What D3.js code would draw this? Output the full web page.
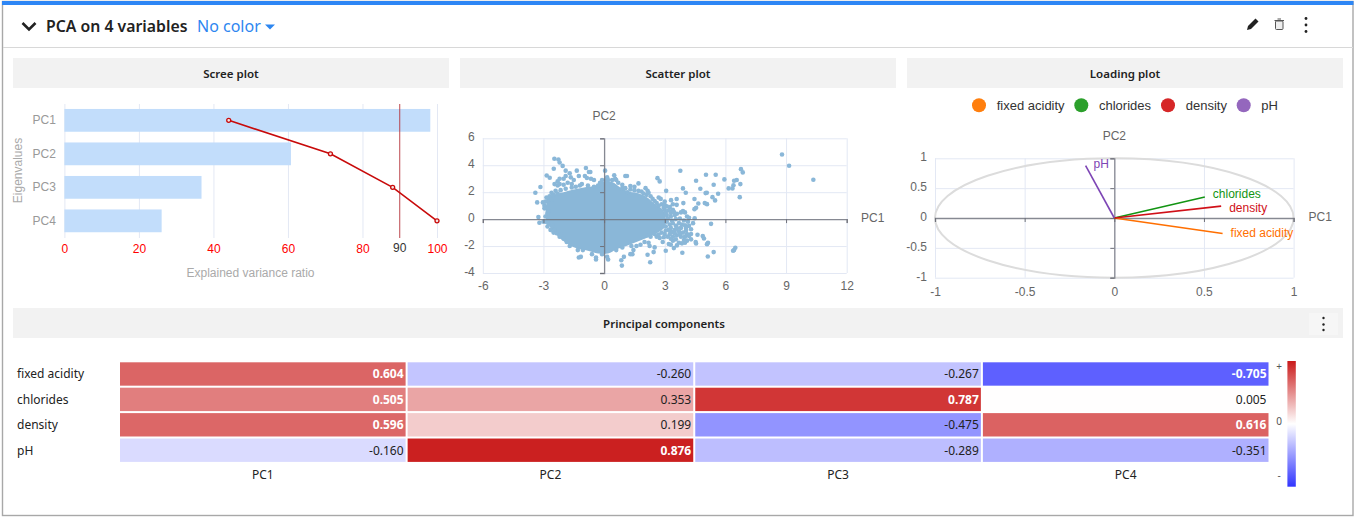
<!DOCTYPE html>
<html><head><meta charset="utf-8">
<script src="https://cdn.jsdelivr.net/npm/d3@7"></script>
<style>
html,body{margin:0;padding:0;background:#fff;overflow:hidden}
svg{display:block}
text{font-family:"Liberation Sans",Arial,sans-serif}
.ui{font-family:"Noto Sans",sans-serif}
.domain{display:none}
</style></head><body><svg id="c" width="1356" height="519"></svg>
<script>
// ---------- data ----------
const components = ["PC1","PC2","PC3","PC4"];
const variables = ["fixed acidity","chlorides","density","pH"];
const explainedBars = [98.2,60.8,36.8,26.1];
const cumulativeLine = [44.1,71.4,88.1,100];
const thresholdValue = 90;
const screeTicks = [0,20,40,60,80,100];
const loadings = [
  [0.604,-0.260,-0.267,-0.705],
  [0.505,0.353,0.787,0.005],
  [0.596,0.199,-0.475,0.616],
  [-0.160,0.876,-0.289,-0.351]
];
const variableColors = ["#ff7f0e","#2ca02c","#d62728","#9467bd"];
const vectorColors = ["#ff6f00","#129412","#d01018","#7d45b5"];
// Outline of the fully overplotted centre of the scatter, where single points cannot be read.
const scatterCoreOutline = [[-2.75,1.7],[-2.4,1.85],[-2,2.0],[-1.5,2.2],[-1,2.35],[-.5,2.45],[0,2.8],[.4,2.75],[.8,2.35],[1.2,2.05],[1.6,1.95],[2.1,1.65],[2.5,1.15],[2.9,.7],[3.05,.1],[3,-.6],[2.6,-1.05],[2.1,-1.4],[1.6,-1.7],[1.1,-2.0],[.6,-2.25],[.2,-2.55],[-.3,-2.55],[-.8,-2.35],[-1.4,-2.15],[-1.9,-1.75],[-2.3,-1.25],[-2.6,-.75],[-2.85,-.1],[-2.9,.5],[-2.85,1.2]];
// Individually readable points around it.
const scatterPoints = [
[8.8,4.8],[9.15,3.96],[10.35,2.92],[6.77,3.71],[6.86,3.47],[6.74,2.6],[6.71,1.63],[6.56,2.9],[6.43,2.85],[6.4,2.52],[6.35,2.28],[6.16,2.28],[5.95,2.95],[5.52,3.29],[5.04,3.29],[4.55,2.85],[3.77,3.59],[2.64,3.04],[2.75,2.8],[3.07,2.1],[3.9,2.28],[4.04,1.96],[4.76,2.25],[5.42,2.55],[5.64,1.88],[5.36,1.63],[5.49,1.39],[5.08,1.96],[5.02,1.93],[4.47,1.49],[4.66,1.16],[4.55,.84],[4.47,.74],[4.98,1.19],[5.09,1.11],[3.59,1.49],[3.59,1.06],[3.92,1.19],[3.31,1.41],[5.29,-.35],[4.48,.07],
[6.49,-2.13],[6.43,-2.3],[6.38,-2.35],[5.13,-2.77],[5.42,-2.45],[5.14,-1.76],[5.09,-1.86],[4.88,-1.26],[4.94,-1.44],[4.55,-1.81],[4.53,-1.7],[4.62,-1.16],[3.87,-2.5],
[-2.46,4.48],[-2.26,4.43],[-2.2,4.2],[-2.05,3.95],[-1.9,3.6],[-1.9,3.2],[-1.7,3.4],[-1.65,3.1],[-1.5,2.9],[-1.35,3.6],[-1.25,3.2],[-.9,3.8],[-.75,3.5],[-.68,3.5],[-.95,3.2],[-.85,3.05],[-.65,3.0],[-.5,2.9],[-2.0,3.0],[-2.2,3.0],[-2.3,2.8],[-2.45,2.6],[-2.3,2.5],[-2.2,2.6],[-2.0,2.55],[-1.8,2.7],[-1.6,2.6],[-1.4,2.4],[-1.2,2.5],[-1.1,2.6],[-.8,2.5],[-.5,2.4],[-.3,2.5],[-.2,2.7],[-.1,2.9],[.05,3.6],[.1,2.9],[.15,3.1],[.5,3.25],[.55,3.0],[.6,2.9],[.7,2.7],[1.05,3.2],[1.13,3.2],[.9,2.3],[1.15,2.0],[1.3,2.45],[1.5,2.4],[1.7,2.65],[1.7,2.1],[1.85,2.05],[2.05,2.3],[2.15,2.1],[2.1,1.8],[2.3,1.7],[2.4,1.5],[2.5,1.35],[2.7,1.6],[2.8,1.5],[2.6,1.2],[2.85,1.1],[3.0,1.3],[3.1,.95],
[3.0,.7],[3.2,.65],[3.25,.9],[3.4,.7],[3.5,.3],[3.6,.4],[3.8,.5],[3.9,.6],[4.0,.5],[4.1,.2],[4.2,.1],[3.1,.3],[3.3,.2],[3.1,-.2],[3.25,-.4],[3.4,-.3],[3.55,-.5],[3.7,-.3],[3.85,-.4],[4.0,-.45],[4.15,-.2],[4.2,-.5],[3.2,-.8],[3.35,-.95],[3.5,-.8],[3.7,-.9],[3.9,-1.0],[4.05,-.85],[4.3,-1.1],[3.0,-1.1],[3.15,-1.3],[3.4,-1.3],[3.6,-1.2],[3.8,-1.3],[4.0,-1.3],[4.2,-1.25],[4.3,-1.5],[4.1,-1.6],[3.85,-1.8],[3.7,-1.75],[3.4,-1.6],[3.2,-1.85],[3.3,-1.9],[2.9,-1.7],[2.75,-1.4],[2.6,-1.3],[2.5,-1.1],[2.3,-1.3],[2.15,-1.2],[2.2,-1.75],[2.25,-2.0],[2.5,-2.1],[2.28,-3.2],[2.15,-2.65],[2.45,-2.45],[3.05,-2.35],[3.45,-2.15],
[3.05,.5],[3.3,.45],[3.45,.55],[3.15,.05],[3.55,0],[3.75,.05],[3.95,-.1],[3.35,-.1],[3.05,-.55],[3.3,-.65],[3.6,-.65],[3.8,-.65],[4.05,-.65],[3.05,-.85],[2.85,-1.0],[3.25,-1.1],[3.5,-1.05],[3.75,-1.1],[4.1,-1.1],[2.7,-1.15],[2.95,-1.35],[3.3,-1.45],[3.55,-1.5],[3.95,-1.55],[3.6,-1.95],[4.0,-1.75],[4.4,-.3],[4.3,-.75],[3.4,1.1],[3.0,1.05],[2.7,1.0],[2.95,.85],[2.2,1.95],[1.95,1.9],[1.5,2.15],[1.3,2.2],[1.05,2.3],[.9,2.55],[.4,2.9],[.2,2.9],[-.2,2.6],[-1.6,2.35],[-1.9,2.25],[-2.15,2.15],[-2.4,2.1],[-2.6,1.95],[-2.75,1.5],[-2.95,1.0],[-2.95,.8],[-2.9,.2],[-3.0,-.2],[-2.8,-.55],[-2.65,-.8],[-2.5,-1.0],
[.88,-3.45],[.85,-3.05],[.98,-2.8],[.2,-3.0],[.15,-2.8],[-.4,-3.0],[-.4,-2.85],[-1.25,-2.85],[-1.15,-2.8],[-1.3,-2.3],[-1.05,-2.3],[-.6,-2.6],[1.3,-2.6],[1.4,-2.6],[1.45,-2.3],[1.35,-2.0],[1.6,-2.0],[1.8,-1.9],[2.0,-1.7],[.6,-2.3],[.9,-2.1],[-.1,-2.6],[-1.7,-2.0],[-1.85,-1.7],[-2.0,-1.45],
[-3.4,1.96],[-3.31,1.24],[-3.15,2.38],[-3.03,1.24],[-2.84,3.24],[-2.69,3.07],[-2.49,3.74],[-3.25,.15],[-3.2,-.27],[-2.9,-.2],[-2.75,-.3],[-2.8,.4],[-2.75,.6],[-2.9,1.3],[-2.85,1.6],[-2.7,1.7],[-2.6,1.45],[-2.5,1.8],[-2.3,1.9],[-2.55,-.5],[-2.45,-.85],[-2.35,-1.05],[-2.15,-1.15],[-2.2,-1.3]
];
const scatterXTicks = [-6,-3,0,3,6,9,12];
const scatterYTicks = [-4,-2,0,2,4,6];
const loadingTicks = [-1,-0.5,0,0.5,1];
const panelTitles = ["Scree plot","Scatter plot","Loading plot"];

// ---------- scaffold ----------
const svg = d3.select("#c");
const gridCol="#e3e8f4", axisCol="#6e7079", labelCol="#666";
svg.append("rect").attr("x",2.5).attr("y",1.5).attr("width",1350.5).attr("height",514).attr("fill","#fff").attr("stroke","#a8a8a8").attr("stroke-width",1.4);
svg.append("rect").attr("x",2).attr("y",1).attr("width",1351.5).attr("height",4).attr("fill","#2d86f5");
svg.append("line").attr("x1",3).attr("x2",1353).attr("y1",47.5).attr("y2",47.5).attr("stroke","#d8d8d8");

svg.append("path").attr("d","M22.5 23l6.5 6.5 6.5-6.5").attr("fill","none").attr("stroke","#222").attr("stroke-width",2.6);
svg.append("text").attr("class","ui").attr("x",46).attr("y",32).attr("font-size",15.8).attr("font-weight",600).attr("fill","#222").text("PCA on 4 variables");
svg.append("text").attr("class","ui").attr("x",197).attr("y",32).attr("font-size",16).attr("fill","#2d86f0").text("No color");
svg.append("path").attr("d","M265 24.5h10l-5 5z").attr("fill","#2d86f0");
// toolbar icons
svg.append("path").attr("d","M1247 30l1-4 7.5-7.5 3 3-7.5 7.5z").attr("fill","#222");
svg.append("g").call(g=>{
  g.append("rect").attr("x",1275.5).attr("y",21).attr("width",7.5).attr("height",8.5).attr("rx",1).attr("fill","#eee").attr("stroke","#555");
  g.append("path").attr("d","M1274.5 20.5h9.5M1277.5 19h3.5").attr("stroke","#555").attr("fill","none");
});
[18.5,25,31.5].forEach(y=>svg.append("circle").attr("cx",1306).attr("cy",y).attr("r",1.4).attr("fill","#222"));

const panelX=[13,460,907];
panelTitles.forEach((t,i)=>{
  svg.append("rect").attr("x",panelX[i]).attr("y",58).attr("width",436).attr("height",30).attr("fill","#f2f2f2");
  svg.append("text").attr("class","ui").attr("x",panelX[i]+218).attr("y",77.5).attr("text-anchor","middle").attr("font-size",11.5).attr("font-weight",600).attr("fill","#222").text(t);
});
svg.append("rect").attr("x",13).attr("y",308).attr("width",1330).attr("height",30).attr("fill","#f2f2f2");
svg.append("text").attr("class","ui").attr("x",664).attr("y",327.5).attr("text-anchor","middle").attr("font-size",11.5).attr("font-weight",600).attr("fill","#222").text("Principal components");
svg.append("rect").attr("x",1309).attr("y",313).attr("width",29).attr("height",22).attr("fill","#f6f6f6");
[318,324.5,330].forEach(y=>svg.append("circle").attr("cx",1323.5).attr("cy",y).attr("r",1.2).attr("fill","#222"));

// ---------- scree ----------
const sx=d3.scaleLinear().domain([0,100]).range([64.4,437]);
const sy=d3.scaleBand().domain(components).range([103.6,237.6]).paddingInner(.32).paddingOuter(.16);
const scree=svg.append("g");
scree.append("g").attr("transform","translate(0,238)")
  .call(d3.axisBottom(sx).tickValues(screeTicks).tickSize(-134).tickPadding(6))
  .call(g=>g.selectAll("line").attr("stroke",gridCol))
  .call(g=>g.selectAll("text").attr("fill","#f00").attr("font-size",12).attr("font-family",'"Liberation Sans"'));
scree.selectAll("rect.bar").data(components).join("rect").attr("class","bar")
  .attr("x",sx(0)).attr("y",d=>sy(d)).attr("height",sy.bandwidth())
  .attr("width",(d,i)=>sx(explainedBars[i])-sx(0)).attr("fill","#c2ddfb");
scree.append("g").attr("transform",`translate(${sx(0)-8.5},0)`)
  .call(d3.axisLeft(sy).tickSize(0).tickPadding(0))
  .call(g=>g.selectAll("text").attr("fill","#999").attr("font-size",12).attr("font-family",'"Liberation Sans"'));
scree.append("line").attr("x1",sx(thresholdValue)).attr("x2",sx(thresholdValue)).attr("y1",104).attr("y2",238).attr("stroke","#b5333b").attr("stroke-width",.9);
const ln=d3.line().x(d=>sx(d.v)).y(d=>sy(d.c)+sy.bandwidth()/2);
const lineData=components.map((c,i)=>({c,v:cumulativeLine[i]}));
scree.append("path").attr("d",ln(lineData)).attr("fill","none").attr("stroke","#c80a0a").attr("stroke-width",1.6);
scree.selectAll("circle").data(lineData).join("circle").attr("cx",d=>sx(d.v)).attr("cy",d=>sy(d.c)+sy.bandwidth()/2).attr("r",2).attr("fill","#f5e6e6").attr("stroke","#c80a0a").attr("stroke-width",1.3);
scree.append("text").attr("x",sx(thresholdValue)).attr("y",252).attr("text-anchor","middle").attr("font-size",12).attr("fill","#333").text(thresholdValue);
scree.append("text").attr("x",250.5).attr("y",277).attr("text-anchor","middle").attr("font-size",12).attr("fill","#aaa").text("Explained variance ratio");
scree.append("text").attr("transform","translate(21.5,170.5) rotate(-90)").attr("text-anchor","middle").attr("font-size",12).attr("fill","#aaa").text("Eigenvalues");

// ---------- scatter ----------
const px=d3.scaleLinear().domain([-6,12]).range([482.8,846.7]);
const py=d3.scaleLinear().domain([-4,6]).range([273,138.3]);
const sc=svg.append("g");
function grid(g,x,y,xt,yt,xPad){
  const [x0,x1]=x.range(),[y0,y1]=y.range();
  g.append("g").attr("transform",`translate(0,${y0})`)
   .call(d3.axisBottom(x).tickValues(xt).tickSize(-(y0-y1)).tickPadding(xPad).tickFormat(String))
   .call(s=>s.selectAll("line").attr("stroke",gridCol))
   .call(s=>s.selectAll("text").attr("fill",labelCol).attr("font-size",12).attr("font-family",'"Liberation Sans"'));
  g.append("g").attr("transform",`translate(${x0},0)`)
   .call(d3.axisLeft(y).tickValues(yt).tickSize(-(x1-x0)).tickPadding(8).tickFormat(String))
   .call(s=>s.selectAll("line").attr("stroke",gridCol))
   .call(s=>s.selectAll("text").attr("fill",labelCol).attr("font-size",12).attr("font-family",'"Liberation Sans"').attr("dy","0.2em"));
}
function zeroAxes(g,x,y,xt,yt){
  g.append("g").attr("transform",`translate(0,${y(0)})`)
   .call(d3.axisBottom(x).tickValues(xt).tickSize(4).tickFormat(""))
   .call(s=>s.select(".domain").style("display","block").attr("stroke",axisCol).attr("stroke-width",1.3).attr("opacity",.8))
   .call(s=>s.selectAll("line").attr("stroke",axisCol));
  g.append("g").attr("transform",`translate(${x(0)},0)`)
   .call(d3.axisLeft(y).tickValues(yt).tickSize(4).tickFormat(""))
   .call(s=>s.select(".domain").style("display","block").attr("stroke",axisCol).attr("stroke-width",1.3).attr("opacity",.8))
   .call(s=>s.selectAll("line").attr("stroke",axisCol));
}
grid(sc,px,py,scatterXTicks,scatterYTicks,8);
const dotCol="#8ab7d8";
sc.append("path").attr("d",d3.line().x(d=>px(d[0])).y(d=>py(d[1])).curve(d3.curveCatmullRomClosed)(scatterCoreOutline)).attr("fill",dotCol);
sc.append("g").selectAll("circle").data(scatterPoints).join("circle").attr("cx",d=>px(d[0])).attr("cy",d=>py(d[1])).attr("r",2.3).attr("fill",dotCol);
zeroAxes(sc,px,py,scatterXTicks,scatterYTicks);
sc.append("text").attr("x",px(0)).attr("y",120).attr("text-anchor","middle").attr("font-size",12).attr("fill",labelCol).text("PC2");
sc.append("text").attr("x",861).attr("y",222).attr("font-size",12).attr("fill",labelCol).text("PC1");

// ---------- loading ----------
const lx=d3.scaleLinear().domain([-1,1]).range([935,1293.6]);
const ly=d3.scaleLinear().domain([-1,1]).range([277.7,158.3]);
const lo=svg.append("g");
grid(lo,lx,ly,loadingTicks,loadingTicks,9.5);
lo.append("ellipse").attr("cx",lx(0)).attr("cy",ly(0)).attr("rx",lx(1)-lx(0)).attr("ry",ly(0)-ly(1)).attr("fill","none").attr("stroke","#dcdcdc").attr("stroke-width",2);
zeroAxes(lo,lx,ly,loadingTicks,loadingTicks);
const vectorLabelDy=[0.33,0.12,0.48,0.2];
variables.forEach((v,i)=>{
  const a=loadings[i][0],b=loadings[i][1];
  lo.append("line").attr("x1",lx(0)).attr("y1",ly(0)).attr("x2",lx(a)).attr("y2",ly(b)).attr("stroke",vectorColors[i]).attr("stroke-width",1.6);
  lo.append("text").attr("x",lx(a)+8).attr("y",ly(b)).attr("dy",vectorLabelDy[i]+"em").attr("font-size",12).attr("fill",vectorColors[i]).text(v);
});
lo.append("text").attr("x",lx(0)).attr("y",140).attr("text-anchor","middle").attr("font-size",12).attr("fill",labelCol).text("PC2");
lo.append("text").attr("x",1308.5).attr("y",221).attr("font-size",12).attr("fill",labelCol).text("PC1");
const legendDot=[979,1081.3,1168,1243.7], legendText=[996.7,1099,1185.7,1261.3];
variables.forEach((v,i)=>{
  svg.append("circle").attr("cx",legendDot[i]).attr("cy",105.3).attr("r",7).attr("fill",variableColors[i]);
  svg.append("text").attr("x",legendText[i]).attr("y",109.5).attr("font-size",13).attr("fill","#333").text(v);
});

// ---------- heatmap ----------
const hx=d3.scaleBand().domain(components).range([120,1268.5]).paddingInner(.007).paddingOuter(0);
const hy=d3.scaleBand().domain(variables).range([362.3,461.9]).paddingInner(.08).paddingOuter(0);
const col=d3.scaleLinear().domain([-1,0,1]).range(["#1a1eff","#ffffff","#c40000"]);
const hm=svg.append("g");
variables.forEach((v,r)=>{
  hm.append("text").attr("class","ui").attr("x",17).attr("y",hy(v)+hy.bandwidth()/2+4.5).attr("font-size",12).attr("fill","#222").text(v);
  components.forEach((c,k)=>{
    const val=loadings[r][k];
    hm.append("rect").attr("x",hx(c)).attr("y",hy(v)).attr("width",hx.bandwidth()).attr("height",hy.bandwidth()).attr("fill",col(val));
    hm.append("text").attr("class","ui").attr("x",hx(c)+hx.bandwidth()-2).attr("y",hy(v)+hy.bandwidth()/2+4.3)
      .attr("text-anchor","end").attr("font-size",12).attr("font-weight",Math.abs(val)>.5?700:400)
      .attr("fill",Math.abs(val)>.5?"#fff":"#222").text(val.toFixed(3));
  });
});
components.forEach(c=>hm.append("text").attr("class","ui").attr("x",hx(c)+hx.bandwidth()/2).attr("y",479).attr("text-anchor","middle").attr("font-size",12).attr("fill","#222").text(c));
// colour legend
const defs=svg.append("defs");
const gr=defs.append("linearGradient").attr("id","lg").attr("x1",0).attr("x2",0).attr("y1",0).attr("y2",1);
[[0,.9],[.5,0],[1,-.9]].forEach(([o,v])=>gr.append("stop").attr("offset",o).attr("stop-color",col(v)));
svg.append("rect").attr("x",1287.4).attr("y",361).attr("width",8.4).attr("height",125.7).attr("fill","url(#lg)");
[["+",370],["0",424.5],["-",479]].forEach(([t,y])=>svg.append("text").attr("class","ui").attr("x",1279).attr("y",y).attr("text-anchor","middle").attr("font-size",10).attr("fill","#555").text(t));
</script></body></html>
